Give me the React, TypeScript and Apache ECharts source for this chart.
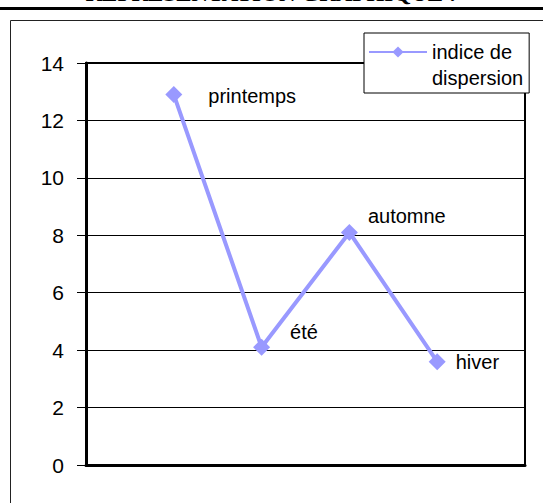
import React, { useEffect, useRef } from "react";
import * as echarts from "echarts";

const categories = ["printemps", "été", "automne", "hiver"];
const values = [12.9, 4.1, 8.1, 3.6];
const seriesName = "indice de dispersion";
const yTicks = [0, 2, 4, 6, 8, 10, 12, 14];
// label offsets (visual placement of data labels, relative to the marker)
const labelOffsets: [number, number][] = [
  [18, 1],
  [12, -15],
  [2, -16],
  [2, 0],
];

export default function App() {
  const ref = useRef<HTMLDivElement>(null);
  useEffect(() => {
    if (!ref.current) return;
    const chart = echarts.init(ref.current, null, { renderer: "svg" });
    const font = "'Liberation Sans', Arial, sans-serif";
    const xData = ["", ...categories, ""];
    const sData: any[] = [
      null,
      ...values.map((v, i) => ({
        value: v,
        label: {
          show: true,
          position: "right",
          distance: 8,
          offset: labelOffsets[i],
          formatter: categories[i],
        },
      })),
      null,
    ];
    chart.setOption({
      animation: false,
      backgroundColor: "#fff",
      textStyle: { fontFamily: font },
      grid: {
        left: 86,
        right: 18,
        top: 63,
        bottom: 38,
        show: true,
        borderColor: "#000",
        borderWidth: 2,
        backgroundColor: "#fff",
      },
      graphic: [
        {
          type: "text",
          x: 271,
          y: 4.5,
          style: {
            text: "REPRESENTATION GRAPHIQUE :",
            font: "bold 23px 'Liberation Serif', 'Times New Roman', serif",
            fill: "#000",
            textAlign: "center",
            textVerticalAlign: "bottom",
          },
          z: 10,
        },
        {
          type: "line",
          shape: { x1: 0, y1: 8.5, x2: 543, y2: 8.5 },
          style: { stroke: "#000", lineWidth: 3 },
        },
        {
          type: "rect",
          shape: { x: 10.5, y: 20.5, width: 560, height: 500 },
          style: { fill: "none", stroke: "#222", lineWidth: 1 },
          z: -10,
        },
      ],
      legend: {
        show: true,
        left: 364,
        top: 33,
        orient: "vertical",
        itemWidth: 58,
        itemHeight: 14,
        itemGap: 0,
        padding: [-20, 6, 2, 4],
        backgroundColor: "#fff",
        borderColor: "#000",
        borderWidth: 1,
        formatter: () => "\nindice de\ndispersion",
        textStyle: {
          fontFamily: font,
          fontSize: 20,
          color: "#000",
          lineHeight: 26,
        },
        data: [seriesName],
      },
      xAxis: {
        type: "category",
        data: xData,
        boundaryGap: false,
        axisLine: { show: true, lineStyle: { color: "#000", width: 3 } },
        axisTick: { show: false },
        axisLabel: { show: false },
        splitLine: { show: false },
      },
      yAxis: {
        type: "value",
        min: yTicks[0],
        max: yTicks[yTicks.length - 1],
        interval: 2,
        axisLine: { show: true, lineStyle: { color: "#000", width: 3 } },
        axisTick: {
          show: true,
          length: 9,
          inside: false,
          lineStyle: { color: "#000", width: 1 },
        },
        axisLabel: {
          show: true,
          margin: 22,
          fontSize: 21,
          color: "#000",
          fontFamily: font,
        },
        splitLine: { show: true, lineStyle: { color: "#000", width: 1 } },
      },
      series: [
        {
          name: seriesName,
          type: "line",
          data: sData,
          connectNulls: false,
          symbol: "diamond",
          symbolSize: 17,
          lineStyle: { color: "#9999FF", width: 4 },
          itemStyle: { color: "#9999FF" },
          label: {
            show: true,
            color: "#000",
            fontSize: 20,
            fontFamily: font,
          },
        },
      ],
    });
    return () => chart.dispose();
  }, []);
  return (
    <div
      ref={ref}
      style={{ position: "absolute", left: 0, top: 0, width: 543, height: 503 }}
    />
  );
}
